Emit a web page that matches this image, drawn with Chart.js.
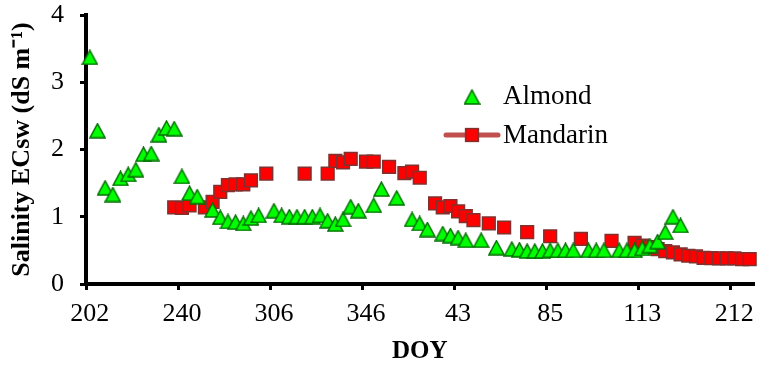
<!DOCTYPE html>
<html lang="en">
<head>
<meta charset="UTF-8">
<title>Salinity ECsw - Almond / Mandarin</title>
<script src="https://cdn.jsdelivr.net/npm/chart.js"></script>
<style>
  html, body { margin: 0; padding: 0; background: #fff; }
</style>
</head>
<body>
<canvas id="salinityChart" width="764" height="367"></canvas>
<script>
// DOY labels shown on the axis (one every 12 sampling dates)
const doyTicks = ['202', '240', '306', '346', '43', '85', '113', '212'];
const tickEvery = 12;
const nDates = 87;

// ECsw (dS/m) per sampling date, null = no measurement
const almond = [
  3.37, 2.28, 1.43, 1.33, 1.57, 1.63, 1.70, 1.93, 1.94, 2.22, 2.32, 2.31,
  1.60, 1.35, 1.30, null, 1.10, 0.99, 0.93, 0.92, 0.90, 0.98, 1.02, null,
  1.09, 1.02, 1.00, 1.00, 1.00, 1.00, 1.02, 0.94, 0.89, 0.96, 1.15, 1.09,
  null, 1.17, 1.41, null, 1.28, null, 0.96, 0.90, 0.81, null, 0.75, 0.72,
  0.69, 0.65, null, 0.65, null, 0.54, null, 0.52, 0.51, 0.49, 0.49, 0.49,
  0.50, 0.50, 0.50, 0.50, null, 0.50, 0.50, 0.50, null, 0.50, 0.50, 0.50,
  0.53, 0.57, 0.63, 0.77, 1.00, 0.87, null, null, null, null, null, null,
  null, null, null
];
const mandarin = [
  null, null, null, null, null, null, null, null, null, null, null, 1.14,
  1.13, 1.17, null, 1.14, 1.22, 1.37, 1.47, 1.48, 1.48, 1.54, null, 1.64,
  null, null, null, null, 1.64, null, null, 1.64, 1.83, 1.81, 1.86, null,
  1.82, 1.82, null, 1.74, null, 1.65, 1.67, 1.58, null, 1.20, 1.14, 1.16,
  1.08, 1.01, 0.95, null, 0.90, null, 0.84, null, null, 0.77, null, null,
  0.71, null, null, null, 0.67, null, null, null, 0.64, null, null, 0.61,
  0.57, 0.55, 0.52, 0.49, 0.47, 0.44, 0.42, 0.41, 0.39, 0.385, 0.38, 0.38,
  0.38, 0.37, 0.37
];

const categories = Array.from({ length: nDates }, (_, i) =>
  i % tickEvery === 0 ? doyTicks[i / tickEvery] : '');

const serif = '"Liberation Serif", "Times New Roman", serif';
Chart.defaults.font.family = serif;
Chart.defaults.color = '#000';

// green triangle marker (a bit taller than the built-in one)
function makeTriangle() {
  const c = document.createElement('canvas');
  c.width = 17; c.height = 16;
  const g = c.getContext('2d');
  g.beginPath();
  g.moveTo(8.5, 1);
  g.lineTo(16, 15);
  g.lineTo(1, 15);
  g.closePath();
  g.fillStyle = '#00ff00';
  g.fill();
  g.lineWidth = 1.5;
  g.strokeStyle = '#007000';
  g.stroke();
  return c;
}
const triangle = makeTriangle();

// legend sitting inside the plot
const insideLegend = {
  id: 'insideLegend',
  afterDraw(chart) {
    const ctx = chart.ctx;
    const ds = chart.data.datasets;
    ctx.save();
    ctx.font = '27px ' + serif;
    ctx.fillStyle = '#000';
    ctx.textBaseline = 'alphabetic';

    ctx.drawImage(triangle, 472 - 8.5, 97 - 8);
    ctx.fillText(ds[0].label, 503, 104);

    ctx.strokeStyle = '#c0504d';
    ctx.lineWidth = 5;
    ctx.lineCap = 'round';
    ctx.beginPath();
    ctx.moveTo(446, 135);
    ctx.lineTo(498, 135);
    ctx.stroke();
    ctx.fillStyle = '#ff0000';
    ctx.strokeStyle = '#80302e';
    ctx.lineWidth = 1.5;
    ctx.fillRect(465.6, 128.6, 12.8, 12.8);
    ctx.strokeRect(465.6, 128.6, 12.8, 12.8);
    ctx.fillStyle = '#000';
    ctx.fillText(ds[1].label, 503, 143);
    ctx.restore();
  }
};

const ctx = document.getElementById('salinityChart').getContext('2d');
new Chart(ctx, {
  type: 'line',
  data: {
    labels: categories,
    datasets: [
      {
        label: 'Almond',
        data: almond,
        showLine: false,
        pointStyle: triangle,
        pointRadius: 8
      },
      {
        label: 'Mandarin',
        data: mandarin,
        spanGaps: false,
        borderColor: '#c0504d',
        borderWidth: 4,
        pointStyle: 'rect',
        pointRadius: 9,
        pointBorderWidth: 1.5,
        pointBackgroundColor: '#ff0000',
        pointBorderColor: '#80302e'
      }
    ]
  },
  options: {
    responsive: false,
    devicePixelRatio: 1,
    animation: false,
    layout: { padding: { top: 15, right: 3, left: 0, bottom: 0 } },
    plugins: {
      legend: { display: false },
      tooltip: { enabled: false }
    },
    scales: {
      x: {
        type: 'category',
        offset: true,
        grid: {
          offset: true,
          drawOnChartArea: false,
          tickLength: 6,
          lineWidth: 3,
          color: c => (c.index % tickEvery === 0 ? '#000' : 'rgba(0,0,0,0)')
        },
        border: { display: true, color: '#000', width: 4 },
        ticks: {
          autoSkip: false,
          maxRotation: 0,
          minRotation: 0,
          padding: 9,
          color: '#000',
          font: { size: 26 }
        },
        title: {
          display: true,
          text: 'DOY',
          color: '#000',
          font: { size: 25, weight: 'bold' },
          padding: { top: 0, bottom: 0 }
        },
        afterFit: s => { s.height = 83; }
      },
      y: {
        min: 0,
        max: 4,
        ticks: { stepSize: 1, padding: 16, color: '#000', font: { size: 26 } },
        grid: { drawOnChartArea: false, tickLength: 6, lineWidth: 3, color: '#000' },
        border: { display: true, color: '#000', width: 4 },
        title: {
          display: true,
          text: 'Salinity ECsw (dS m⁻¹)',
          color: '#000',
          font: { size: 26, weight: 'bold' },
          padding: { top: 7, bottom: 0 }
        },
        afterFit: s => {
          s.width = 86;
          s.paddingTop = 0;
          s.paddingBottom = 0;
        }
      }
    }
  },
  plugins: [insideLegend]
});
</script>
</body>
</html>
